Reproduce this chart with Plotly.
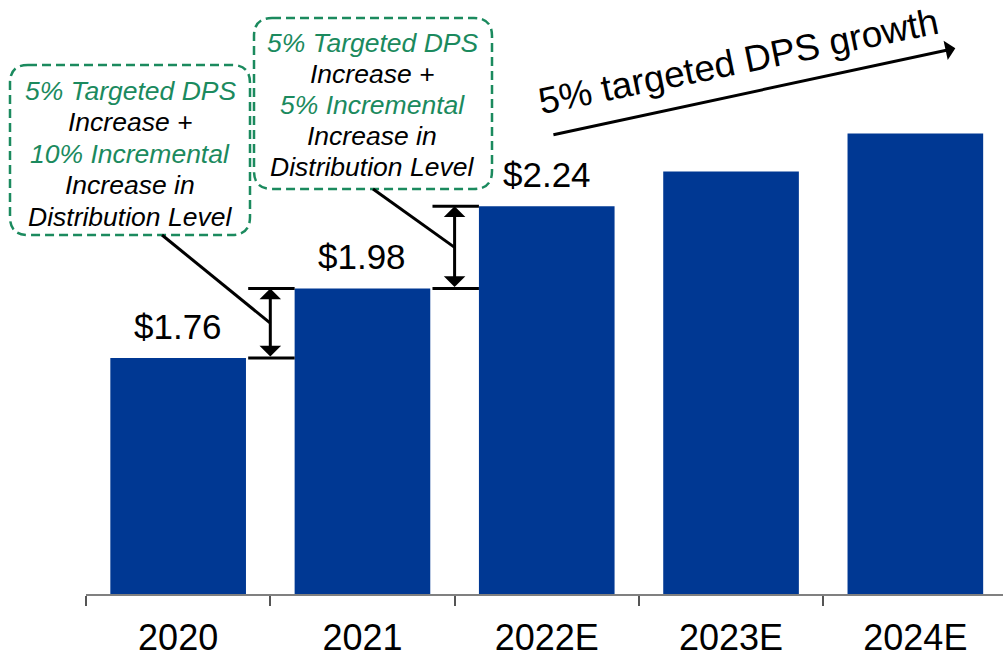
import plotly.graph_objects as go

# ---- data ----
categories = ["2020", "2021", "2022E", "2023E", "2024E"]
dps = [1.76, 1.98, 2.24, 2.35, 2.47]
value_labels = ["$1.76", "$1.98", "$2.24", "", ""]

box1_lines = [("5% Targeted DPS", "g"), ("Increase +", "k"), ("10% Incremental", "g"),
              ("Increase in", "k"), ("Distribution Level", "k")]
box2_lines = [("5% Targeted DPS", "g"), ("Increase +", "k"), ("5% Incremental", "g"),
              ("Increase in", "k"), ("Distribution Level", "k")]
growth_text = "5% targeted DPS growth"

# ---- style / layout constants ----
W, H = 1003, 651
ML, MR, MT, MB = 86, 0, 0, 57
PW, PH = W - ML - MR, H - MT - MB
CAT_PX = 184.3
X0 = -0.5
X1 = X0 + PW / CAT_PX
Y_PX = 316.0
Y0 = 1.013
Y1 = Y0 + PH / Y_PX

BAR = "#003893"
GREEN = "#1b8a5e"
FONT = "Liberation Sans, Arial, sans-serif"


def xp(px):
    return (px - ML) / PW


def yp(py):
    return (MT + PH - py) / PH


def dxp(i):
    return (i - X0) / (X1 - X0)


def dyp(v):
    return (v - Y0) / (Y1 - Y0)


def rrect(x0, y0, x1, y1, r):
    pts = [("M", [(x0 + r, y0)]), ("L", [(x1 - r, y0)]), ("Q", [(x1, y0), (x1, y0 + r)]),
           ("L", [(x1, y1 - r)]), ("Q", [(x1, y1), (x1 - r, y1)]), ("L", [(x0 + r, y1)]),
           ("Q", [(x0, y1), (x0, y1 - r)]), ("L", [(x0, y0 + r)]), ("Q", [(x0, y0), (x0 + r, y0)])]
    s = ""
    for cmd, ps in pts:
        s += cmd + " " + " ".join(f"{xp(a):.5f},{yp(b):.5f}" for a, b in ps) + " "
    return s + "Z"


fig = go.Figure()
fig.add_trace(go.Bar(x=categories, y=dps, marker=dict(color=BAR, line=dict(width=0)),
                     width=0.736, hoverinfo="skip"))

annotations = []
shapes = []

# value labels
for i, (c, v, lab) in enumerate(zip(categories, dps, value_labels)):
    if lab:
        annotations.append(dict(x=i, y=v, xref="x", yref="y", text=lab, showarrow=False,
                                yanchor="bottom", yshift=10, font=dict(size=35, color="black", family=FONT)))

# double arrows with caps between consecutive bars
for i in range(2):
    lo, hi = dps[i], dps[i + 1]
    xm = i + 0.5
    for v in (lo, hi):
        shapes.append(dict(type="line", xref="x", yref="y", x0=i + 0.38, x1=i + 0.632, y0=v, y1=v,
                           line=dict(color="black", width=3)))
    annotations.append(dict(x=xm, y=hi, ax=xm, ay=lo, xref="x", yref="y", axref="x", ayref="y",
                            text="", showarrow=True, arrowhead=1, arrowsize=1.2, arrowwidth=3,
                            arrowside="end+start", startarrowhead=1, startarrowsize=1.2,
                            arrowcolor="black", standoff=0, startstandoff=0))

# callout boxes: rect, lines, text centre x, first line y, line step, connector start
boxes = [((10, 65, 250, 235), box1_lines, 130, 91, 31.4, (162, 235)),
         ((254, 18, 492, 189), box2_lines, 372, 42.5, 31.1, (373, 189))]
for k, (rect, lines, cx, y_first, step, cstart) in enumerate(boxes):
    shapes.append(dict(type="path", xref="paper", yref="paper", path=rrect(*rect, 18),
                       line=dict(color=GREEN, width=2.5, dash="9px,5px"), fillcolor="rgba(0,0,0,0)"))
    for j, (t, c) in enumerate(lines):
        col = GREEN if c == "g" else "black"
        annotations.append(dict(x=xp(cx), y=yp(y_first + j * step), xref="paper", yref="paper",
                                text=f"<i>{t}</i>", showarrow=False, xanchor="center", yanchor="middle",
                                font=dict(size=26.5, family=FONT, color=col)))
    mid = (dps[k] + dps[k + 1]) / 2
    shapes.append(dict(type="line", xref="paper", yref="paper",
                       x0=xp(cstart[0]), y0=yp(cstart[1]), x1=dxp(k + 0.5), y1=dyp(mid),
                       line=dict(color="black", width=3)))

# growth arrow + text
annotations.append(dict(x=4.217, y=2.740, ax=2.028, ay=2.4655, xref="x", yref="y", axref="x", ayref="y",
                        text="", showarrow=True, arrowhead=1, arrowsize=1.1, arrowwidth=3,
                        arrowcolor="black", standoff=0))
annotations.append(dict(x=xp(738), y=yp(62), xref="paper", yref="paper", text=growth_text,
                        showarrow=False, textangle=-11.5, xanchor="center", yanchor="middle",
                        font=dict(size=37, color="black", family=FONT)))

fig.update_layout(
    width=W, height=H, margin=dict(l=ML, r=MR, t=MT, b=MB, autoexpand=False),
    plot_bgcolor="white", paper_bgcolor="white", showlegend=False,
    xaxis=dict(type="category", range=[X0, X1], showline=True, linecolor="#808080", linewidth=1.5,
               ticks="outside", tickson="boundaries", ticklen=10, tickcolor="#555555", tickwidth=1.5,
               tickfont=dict(size=36, color="black", family=FONT), showgrid=False, zeroline=False,
               automargin=False, ticklabelstandoff=11),
    yaxis=dict(range=[Y0, Y1], visible=False, showgrid=False, zeroline=False, automargin=False),
    annotations=annotations, shapes=shapes,
)

fig.write_html("out.html", config={"displayModeBar": False},
               post_script="document.body.style.margin='0';document.body.style.overflow='hidden';")
